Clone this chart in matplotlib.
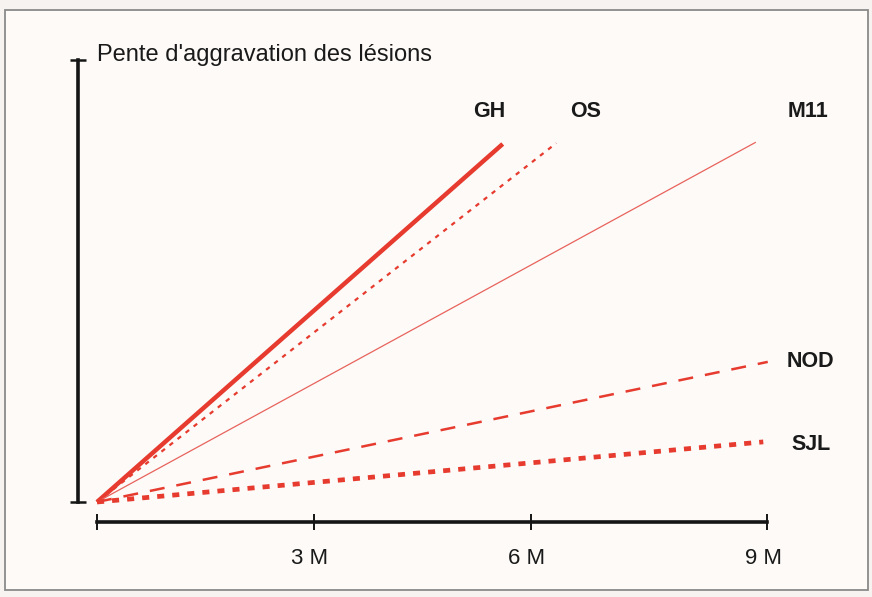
import matplotlib.pyplot as plt
from matplotlib.patches import Rectangle
from matplotlib.transforms import offset_copy

# ---- data ----
series = ["GH", "OS", "M11", "NOD", "SJL"]
end_month = [5.45, 6.17, 8.85, 9.01, 8.95]      # where each line stops (months)
end_slope = [0.81, 0.812, 0.814, 0.317, 0.136]  # relative lesion-worsening slope
tick_pos = [0, 2.91, 5.83, 9]                   # ticks as drawn on the axis
tick_lab = ["", "3 M", "6 M", "9 M"]

red = "#e63b2e"
styles = {
    "GH":  dict(lw=3.2, color=red),
    "OS":  dict(lw=1.6, color=red, dashes=(2.0, 2.6)),
    "M11": dict(lw=0.9, color="#e8635c"),
    "NOD": dict(lw=1.8, color=red, dashes=(6.0, 4.8)),
    "SJL": dict(lw=3.4, color=red, dashes=(1.5, 1.7)),
}
# label anchors (x in months, baseline y in slope units)
label_pos = {
    "GH":  (5.27, 0.871),
    "OS":  (6.56, 0.871),
    "M11": (9.55, 0.871),
    "NOD": (9.59, 0.305),
    "SJL": (9.59, 0.118),
}

# ============================================================
fig = plt.figure(figsize=(8.72, 5.97), dpi=100, facecolor="#f7f3f1")
ax = fig.add_axes([0, 0, 1, 1])
ax.set_facecolor("none")
ax.add_patch(Rectangle((5 / 872, 7 / 597), 863 / 872, 580 / 597,
                       transform=fig.transFigure, facecolor="#fdfaf8",
                       edgecolor="#8a8a8a", lw=1.3, zorder=0, clip_on=False))
ax.set_xlim((0 - 97) * 9 / 670, (872 - 97) * 9 / 670)
ax.set_ylim((502 - 597) / 442, 502 / 442)

for name, xe, ye in zip(series, end_month, end_slope):
    ax.plot([0, xe], [0, ye], solid_capstyle="butt", dash_capstyle="butt",
            zorder=2, **styles[name])
    tx, ty = label_pos[name]
    ax.text(tx, ty, name, ha="center", va="baseline", fontsize=15.5,
            fontweight="bold", family="Liberation Sans", color="#1a1a1a")

# axes drawn as spines with cap ticks
for s in ["top", "right"]:
    ax.spines[s].set_visible(False)
ax.spines["left"].set_position(("data", (78 - 97) * 9 / 670))
ax.spines["left"].set_bounds(0, 1)
ax.spines["bottom"].set_position(("data", (502 - 522) / 442))
ax.spines["bottom"].set_bounds(0, 9)
for s in ["left", "bottom"]:
    ax.spines[s].set_linewidth(2.6)
    ax.spines[s].set_color("#151515")
    ax.spines[s].set_zorder(3)

ax.set_yticks([0, 1])
ax.set_yticklabels([])
ax.tick_params(axis="y", direction="inout", length=11.5, width=1.8, color="#151515")
ax.set_xticks(tick_pos)
ax.set_xticklabels(tick_lab, fontsize=16, family="Liberation Sans", color="#1a1a1a")
ax.tick_params(axis="x", direction="inout", length=11, width=1.4,
               color="#151515", pad=13)
for lab in ax.get_xticklabels():
    lab.set_transform(offset_copy(lab.get_transform(), fig=fig, x=-4, units="dots"))

ax.text((97 - 97) * 9 / 670, (502 - 61) / 442, "Pente d'aggravation des lésions",
        ha="left", va="baseline", fontsize=17, family="Liberation Sans",
        color="#1a1a1a")

fig.savefig("out.png", dpi=100, facecolor=fig.get_facecolor())
